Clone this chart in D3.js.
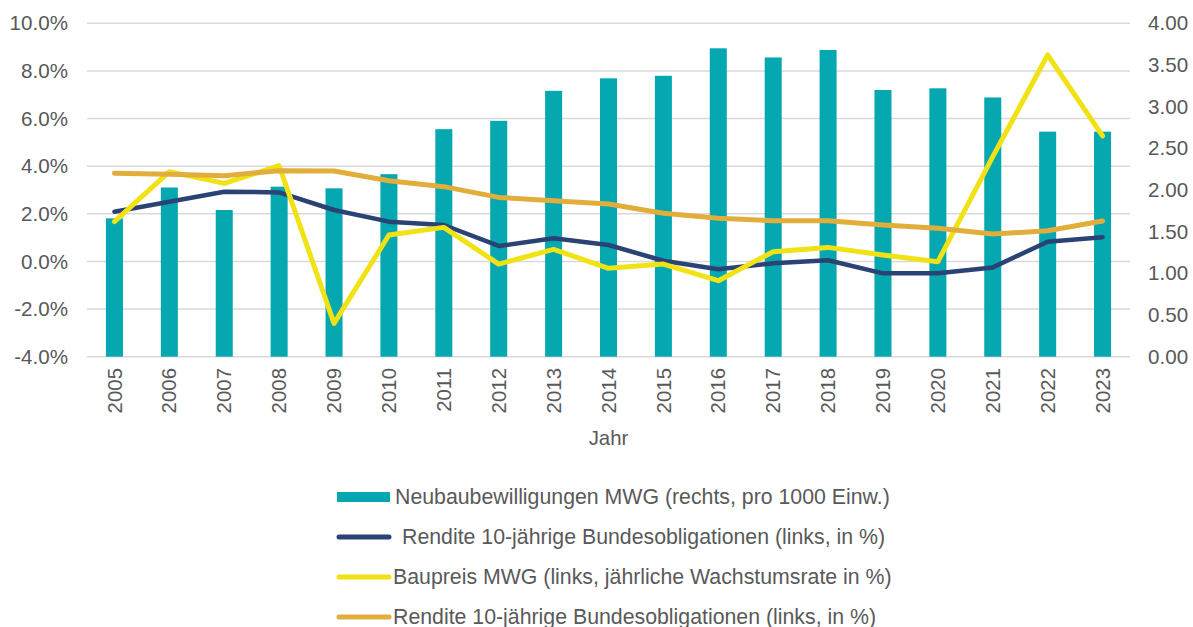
<!DOCTYPE html>
<html>
<head>
<meta charset="utf-8">
<script src="https://cdn.jsdelivr.net/npm/d3@7"></script>
<style>
  body { margin: 0; background: #fff; }
  svg text { font-family: "Liberation Sans", Arial, sans-serif; fill: #595959; }
</style>
</head>
<body>
<div id="chart"></div>
<script>
// data
let years = ["2005","2006","2007","2008","2009","2010","2011","2012","2013","2014",
             "2015","2016","2017","2018","2019","2020","2021","2022","2023"];
let permits = [1.66, 2.03, 1.76, 2.04, 2.02, 2.19, 2.73, 2.83, 3.19, 3.34,
               3.37, 3.70, 3.59, 3.68, 3.20, 3.22, 3.11, 2.70, 2.70];
let bondYield = [2.09, 2.51, 2.93, 2.90, 2.16, 1.67, 1.53, 0.65, 0.97, 0.69,
                 0.03, -0.33, -0.08, 0.05, -0.50, -0.50, -0.25, 0.83, 1.02];
let buildPrice = [1.67, 3.77, 3.28, 4.02, -2.60, 1.11, 1.43, -0.11, 0.51, -0.29,
                  -0.11, -0.81, 0.41, 0.59, 0.27, -0.01, 4.40, 8.67, 5.27];
let bondYield2 = [3.70, 3.66, 3.60, 3.81, 3.80, 3.39, 3.14, 2.69, 2.55, 2.41,
                  2.02, 1.81, 1.71, 1.71, 1.53, 1.39, 1.15, 1.29, 1.70];
let leftTicks = [-4, -2, 0, 2, 4, 6, 8, 10];
let rightTicks = [0, 0.5, 1, 1.5, 2, 2.5, 3, 3.5, 4];
let legendLabels = [
  "Neubaubewilligungen MWG (rechts, pro 1000 Einw.)",
  "Rendite 10-jährige Bundesobligationen (links, in %)",
  "Baupreis MWG (links, jährliche Wachstumsrate in %)",
  "Rendite 10-jährige Bundesobligationen (links, in %)"
];

let width = 1193, height = 627;
let colors = { bar: "#05A8B0", navy: "#2B4374", yellow: "#F0E214", orange: "#E1AE3C" };

let svg = d3.select("#chart").append("svg")
  .attr("width", width)
  .attr("height", height);

let x = d3.scaleBand()
  .domain(years)
  .range([87, 1130])
  .paddingInner(0.69)
  .paddingOuter(0.345);

let yLeft = d3.scaleLinear().domain([-4, 10]).range([356.7, 23.3]);
let yRight = d3.scaleLinear().domain([0, 4]).range([356.7, 23.3]);

// grid
svg.append("g").selectAll("line")
  .data(leftTicks)
  .enter().append("line")
  .attr("x1", 87).attr("x2", 1130)
  .attr("y1", (d) => yLeft(d)).attr("y2", (d) => yLeft(d))
  .attr("stroke", "#D9D9D9")
  .attr("stroke-width", 1.5);

// left axis
let leftAxis = svg.append("g")
  .attr("transform", "translate(68,0)")
  .call(d3.axisLeft(yLeft).tickValues(leftTicks).tickSize(0).tickPadding(0)
    .tickFormat((d) => d.toFixed(1) + "%"));
leftAxis.select(".domain").remove();
leftAxis.selectAll("text").style("font-size", "20.6px").style("fill", "#595959");

// right axis
let rightAxis = svg.append("g")
  .attr("transform", "translate(1148,0)")
  .call(d3.axisRight(yRight).tickValues(rightTicks).tickSize(0).tickPadding(0)
    .tickFormat(d3.format(".2f")));
rightAxis.select(".domain").remove();
rightAxis.selectAll("text").style("font-size", "20.6px").style("fill", "#595959");

// bars
svg.append("g").selectAll("rect")
  .data(permits)
  .enter().append("rect")
  .attr("x", (d, i) => x(years[i]))
  .attr("y", (d) => yRight(d))
  .attr("width", x.bandwidth())
  .attr("height", (d) => yRight(0) - yRight(d))
  .attr("fill", colors.bar);

// lines
let line = d3.line()
  .x((d, i) => x(years[i]) + x.bandwidth() / 2)
  .y((d) => yLeft(d));

[[bondYield, colors.navy, 4.5], [buildPrice, colors.yellow, 5], [bondYield2, colors.orange, 5]]
  .forEach(function(s) {
    svg.append("path")
      .datum(s[0])
      .attr("d", line)
      .attr("fill", "none")
      .attr("stroke", s[1])
      .attr("stroke-width", s[2])
      .attr("stroke-linejoin", "round")
      .attr("stroke-linecap", "round");
  });

// x labels
let xAxis = svg.append("g")
  .attr("transform", "translate(0,368)")
  .call(d3.axisBottom(x).tickSize(0).tickPadding(0));
xAxis.select(".domain").remove();
xAxis.selectAll("text")
  .style("font-size", "20.4px")
  .style("fill", "#595959")
  .attr("text-anchor", "end")
  .attr("dy", "0.35em")
  .attr("y", 0)
  .attr("transform", "rotate(-90)");

svg.append("text")
  .attr("x", 608.5)
  .attr("y", 445)
  .attr("text-anchor", "middle")
  .style("font-size", "20.4px")
  .text("Jahr");

// legend
let legendY = [497, 537, 577, 617];
let legendTextX = [395, 402, 393, 393];
let legendColors = [colors.bar, colors.navy, colors.yellow, colors.orange];
let legend = svg.append("g");
legendLabels.forEach(function(label, i) {
  if (i === 0) {
    legend.append("rect")
      .attr("x", 337).attr("y", legendY[i] - 5)
      .attr("width", 53).attr("height", 10)
      .attr("fill", legendColors[i]);
  } else {
    legend.append("line")
      .attr("x1", 339).attr("x2", 389)
      .attr("y1", legendY[i]).attr("y2", legendY[i])
      .attr("stroke", legendColors[i])
      .attr("stroke-width", 5)
      .attr("stroke-linecap", "round");
  }
  legend.append("text")
    .attr("x", legendTextX[i])
    .attr("y", legendY[i])
    .attr("dy", "0.35em")
    .style("font-size", "21.3px")
    .text(label);
});
</script>
</body>
</html>
